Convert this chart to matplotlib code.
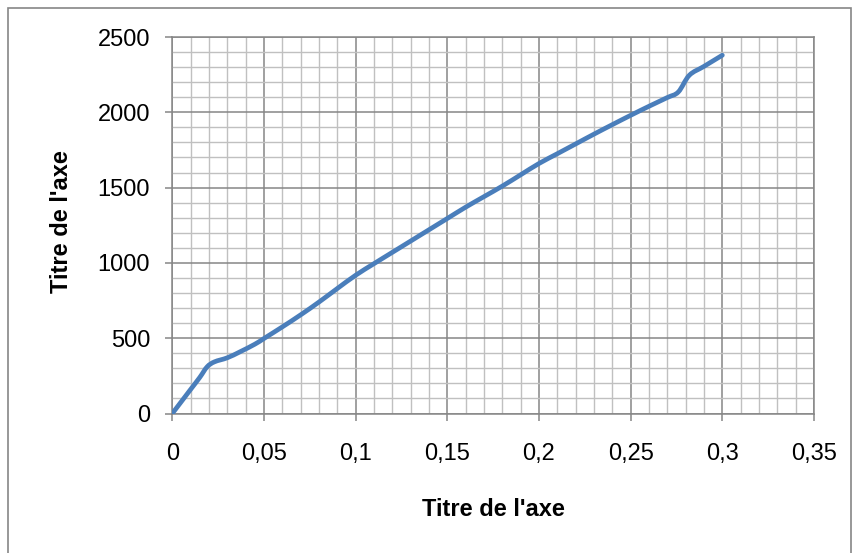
import matplotlib
matplotlib.use("Agg")
import matplotlib.pyplot as plt
from matplotlib.patches import Rectangle, PathPatch
from matplotlib.path import Path
from matplotlib.ticker import MultipleLocator, FixedLocator, FixedFormatter

# Measured curve
x_vals = [0, 0.005, 0.01, 0.015, 0.019, 0.023, 0.03, 0.037, 0.045, 0.05,
          0.06, 0.07, 0.08, 0.09, 0.1, 0.11, 0.12, 0.13, 0.14, 0.15,
          0.16, 0.17, 0.18, 0.19, 0.2, 0.21, 0.22, 0.23, 0.24, 0.25,
          0.26, 0.27, 0.276, 0.282, 0.29, 0.3]
y_vals = [0, 80, 160, 240, 310, 343, 370, 410, 460, 498,
          575, 655, 740, 830, 918, 995, 1070, 1145, 1220, 1295,
          1370, 1440, 1510, 1585, 1660, 1725, 1790, 1855, 1918, 1980,
          2040, 2098, 2135, 2246, 2305, 2379]

x_ticks = [0, 0.05, 0.1, 0.15, 0.2, 0.25, 0.3, 0.35]
x_tick_labels = ["0", "0,05", "0,1", "0,15", "0,2", "0,25", "0,3", "0,35"]
y_ticks = [0, 500, 1000, 1500, 2000, 2500]
y_tick_labels = ["0", "500", "1000", "1500", "2000", "2500"]
axis_title = "Titre de l'axe"

plt.rcParams['font.family'] = ['Liberation Sans', 'DejaVu Sans']

W, H = 857, 553
fig = plt.figure(figsize=(W / 100, H / 100), dpi=100)
fig.patch.set_facecolor("white")

# chart area border
fig.add_artist(Rectangle((8 / W, -0.02), (851 - 8) / W, 1 - 8 / H + 0.02,
                         transform=fig.transFigure, fill=False,
                         edgecolor="#868686", linewidth=1.2))

left, right, top, bottom = 172.3, 814, 37, 413.5
ax = fig.add_axes([left / W, 1 - bottom / H, (right - left) / W, (bottom - top) / H])

major_c = "#868686"
minor_c = "#c0c0c0"

ax.set_xlim(0, 0.35)
ax.set_ylim(0, 2500)
ax.xaxis.set_major_locator(FixedLocator(x_ticks))
ax.xaxis.set_major_formatter(FixedFormatter(x_tick_labels))
ax.yaxis.set_major_locator(FixedLocator(y_ticks))
ax.yaxis.set_major_formatter(FixedFormatter(y_tick_labels))
ax.xaxis.set_minor_locator(MultipleLocator(0.01))
ax.yaxis.set_minor_locator(MultipleLocator(100))

ax.grid(which="minor", color=minor_c, linewidth=1.0, zorder=0)
ax.grid(which="major", color=major_c, linewidth=1.1, zorder=0.5)
ax.set_axisbelow(True)

for s in ax.spines.values():
    s.set_color(major_c)
    s.set_linewidth(1.1)

ax.tick_params(which="major", direction="out", length=5, width=1.1,
               color=major_c, labelsize=17, labelcolor="black")
ax.tick_params(axis="x", which="major", pad=16)
ax.tick_params(axis="y", which="major", pad=11)
ax.tick_params(which="minor", length=0)


def smooth_path(xs, ys, k=1 / 6):
    """Cubic Bezier path through the points (Catmull-Rom style tangents)."""
    n = len(xs)
    verts = [(xs[0], ys[0])]
    codes = [Path.MOVETO]
    for i in range(n - 1):
        x0, y0 = (xs[i - 1], ys[i - 1]) if i > 0 else (xs[i], ys[i])
        x1, y1 = xs[i], ys[i]
        x2, y2 = xs[i + 1], ys[i + 1]
        x3, y3 = (xs[i + 2], ys[i + 2]) if i + 2 < n else (x2, y2)
        c1 = (x1 + (x2 - x0) * k, y1 + (y2 - y0) * k)
        c2 = (x2 - (x3 - x1) * k, y2 - (y3 - y1) * k)
        verts += [c1, c2, (x2, y2)]
        codes += [Path.CURVE4] * 3
    return Path(verts, codes)


ax.add_patch(PathPatch(smooth_path(x_vals, y_vals), facecolor="none",
                       edgecolor="#4A7EBB", linewidth=3.4,
                       capstyle="round", joinstyle="round", zorder=3))

fig.text(493 / W, 1 - 516 / H, axis_title, ha="center", va="baseline",
         fontsize=17, fontweight="bold")
fig.text(68 / W, 1 - 222 / H, axis_title, ha="center", va="baseline",
         rotation=90, rotation_mode="anchor", fontsize=17, fontweight="bold")

fig.savefig("out.png", dpi=100)
